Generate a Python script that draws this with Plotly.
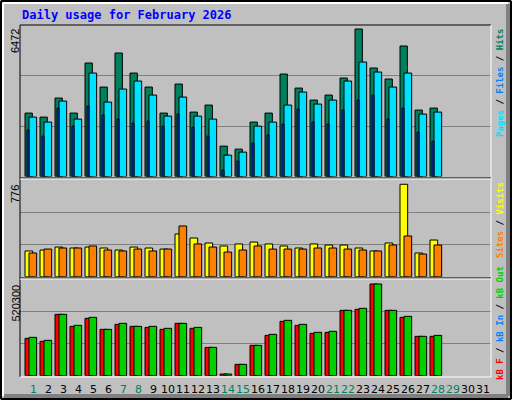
import plotly.graph_objects as go

days = list(range(1, 29))
hits = [2782,2606,3441,2782,4979,3924,5418,4539,3924,2782,4056,2826,3134,1333,1201,2387,2782,4495,3880,3353,3573,4320,6472,4759,4276,5725,2914,3002]
files = [2606,2387,3309,2519,4539,3265,3836,4188,3573,2650,3485,2650,2519,937,1069,2211,2387,3134,3705,3178,3353,4188,5022,4583,3924,4539,2738,2826]
pages = [2035,1772,3002,2211,3090,2694,2519,2343,2431,2211,2738,2167,1772,278,674,1464,1816,2299,2958,2387,2299,2914,3353,3573,2519,3002,1948,1552]
visits = [216,224,249,241,249,241,224,249,241,232,359,325,283,258,275,291,275,258,241,275,266,266,241,216,283,776,199,308]
sites = [199,232,241,241,258,224,216,232,216,232,426,275,249,207,224,258,232,232,232,241,241,232,224,216,266,342,190,266]
kbf = [211900,194900,348100,280000,325400,263000,291400,280000,274300,263000,297000,268700,160800,9500,64300,172200,228900,308400,285700,240300,246000,370800,376500,520300,370800,331100,223300,223300]
kbout = [217600,200600,348100,285700,331100,263000,297000,280000,280000,268700,297000,274300,160800,9500,64300,172200,234600,314100,291400,246000,251700,370800,382200,520300,370800,336800,223300,228900]
max_labels = ["6472", "776", "520300"]
day_labels = [str(d) for d in range(1, 32)]
weekend = [1, 7, 8, 14, 15, 21, 22, 28, 29]

W, H = 512, 400
def px(x): return x / W
def py(y): return 1 - y / H

fig = go.Figure()
def bar(y, color, off, wid, ax):
    fig.add_trace(go.Bar(x=days, y=y, marker=dict(color=color, line=dict(color="black", width=1)),
                         offset=off, width=wid, yaxis=ax, showlegend=False, hoverinfo="skip"))

bar(hits, "#00805c", -0.533, 0.49, "y")
bar(files, "#00e0ff", -0.267, 0.51, "y")
bar(pages, "#0040ff", -0.4, 0.133, "y")
bar(visits, "#ffff00", -0.533, 0.51, "y2")
bar(sites, "#ff8000", -0.267, 0.51, "y2")
bar(kbf, "#ff0000", -0.533, 0.5, "y3")
bar(kbout, "#00d000", -0.267, 0.51, "y3")

r1, r2, r3 = 6647, 812, 543000
def yax(dom, r):
    return dict(domain=dom, range=[0, r], tickvals=[r/3, 2*r/3], showticklabels=False,
                gridcolor="#808080", gridwidth=1, zeroline=False, fixedrange=True)

fig.update_layout(
    width=W, height=H, margin=dict(l=0, r=0, t=0, b=0),
    paper_bgcolor="#c0c0c0", plot_bgcolor="#c0c0c0", barmode="overlay",
    xaxis=dict(domain=[px(20), px(491)], range=[(20-33)/15+1, (491-33)/15+1],
               showticklabels=False, showgrid=False, zeroline=False),
    yaxis=yax([py(176.5), py(25)], r1),
    yaxis2=dict(yax([py(276.7), py(180)], r2), anchor="x"),
    yaxis3=dict(yax([py(375.7), py(280)], r3), anchor="x"),
)

shapes = []
def line(x0, y0, x1, y1, c, w=1):
    shapes.append(dict(type="line", xref="paper", yref="paper", x0=px(x0), y0=py(y0), x1=px(x1), y1=py(y1),
                       line=dict(color=c, width=w)))
line(1, 1, 511, 1, "black", 2); line(1, 1, 1, 399, "black", 2)
line(511, 1, 511, 399, "black", 2); line(1, 399, 511, 399, "black", 2)
line(4, 396, 508, 396, "#808080", 4); line(508, 4, 508, 396, "#808080", 4)
line(3, 3, 508, 3, "white", 2); line(3, 3, 3, 396, "white", 2)
line(20, 25, 491, 25, "black"); line(20, 25, 20, 377, "black")
line(491, 25, 491, 377, "white"); line(20, 377, 491, 377, "white")
for yy in (178, 278):
    line(20, yy, 491, yy, "black"); line(20, yy + 1, 491, yy + 1, "white")
fig.update_layout(shapes=shapes)

ann = []
mono = "DejaVu Sans Mono"
ann.append(dict(text="<b>Daily usage for February 2026</b>", x=px(20), y=py(15), xanchor="left", yanchor="middle",
                font=dict(family=mono, size=12, color="#0000ff")))
for lab, ytop in zip(max_labels, (27, 183, 283)):
    ann.append(dict(text=lab, x=px(15), y=py(ytop), xanchor="center", yanchor="top", textangle=-90,
                    font=dict(family="Liberation Sans", size=11, color="black")))
for i, lab in enumerate(day_labels):
    d = i + 1
    ann.append(dict(text=lab, x=px(33 + 15 * i), y=py(389), xanchor="center", yanchor="middle",
                    font=dict(family="DejaVu Sans", size=11, color="#00805c" if d in weekend else "black")))
legs = [
    ('<span style="color:#00e0ff">Pages</span> / <span style="color:#0080ff">Files</span> / <span style="color:#00805c">Hits</span>', 83),
    ('<span style="color:#ff8000">Sites</span> / <span style="color:#ffff00">Visits</span>', 220),
    ('<span style="color:#ff0000">kB F</span> / <span style="color:#0080ff">kB In</span> / <span style="color:#00d000">kB Out</span>', 323),
]
for t, yc in legs:
    ann.append(dict(text="<b>" + t + "</b>", x=px(500), y=py(yc), xanchor="center", yanchor="middle", textangle=-90,
                    font=dict(family=mono, size=9, color="black")))
for a in ann:
    a.update(xref="paper", yref="paper", showarrow=False)
fig.update_layout(annotations=ann)

fig.write_html("out.html", config={"displayModeBar": False})
with open("out.html", encoding="utf-8") as f:
    html = f.read()
html = html.replace("<head>", "<head><style>html,body{margin:0;padding:0;overflow:hidden}</style>", 1)
with open("out.html", "w", encoding="utf-8") as f:
    f.write(html)
